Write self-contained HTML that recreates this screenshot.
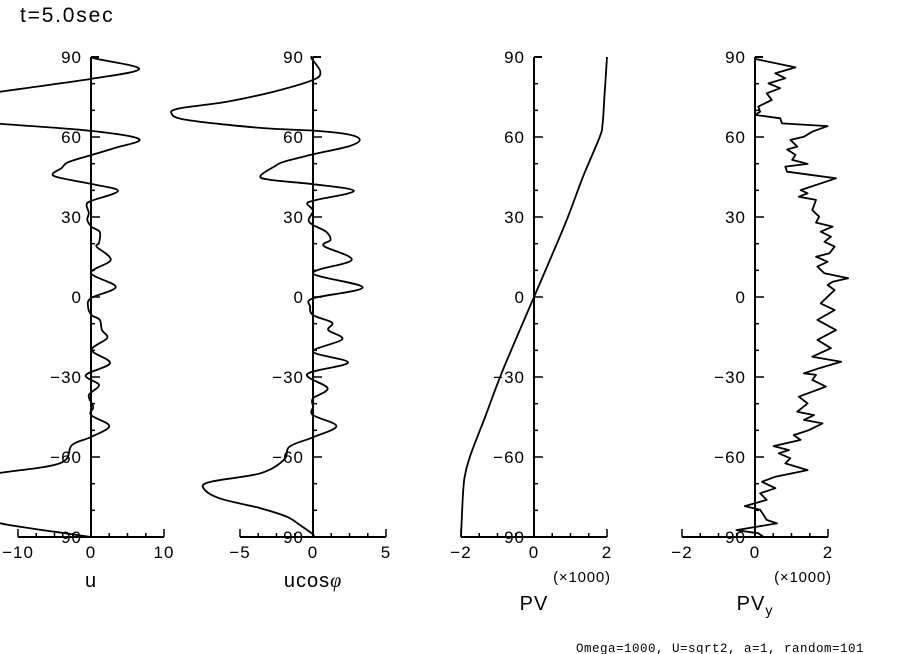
<!DOCTYPE html>
<html><head><meta charset="utf-8">
<style>
html,body{margin:0;padding:0;background:#fff;}
svg{display:block;}
text{font-family:"Liberation Sans",sans-serif;fill:#000;}
</style></head>
<body>
<svg id="chart" width="904" height="654" viewBox="0 0 904 654" xmlns="http://www.w3.org/2000/svg">
<text x="20" y="22" font-size="21" letter-spacing="1.8">t=5.0sec</text>
<text x="576" y="652" font-size="12.5" letter-spacing="0.5" style="font-family:'Liberation Mono',monospace">Omega=1000, U=sqrt2, a=1, random=101</text>
</svg>
<script>
// Panel 1: u
const uLat = [90,89.3,85.5,81.8,77,75,73,70,67,65,62.3,59.2,55.9,53.2,50.6,48.4,45.4,42.4,39.8,36,34.5,31.5,28.9,26.3,24.4,20.3,18.8,13.9,9,3.8,-0.4,-3.8,-6.8,-8.6,-12.4,-15.4,-19.9,-24.8,-29.3,-33,-36.8,-41.2,-44.3,-48.4,-52.5,-55.5,-62.3,-66,-69.3,-71.7,-75.5,-79.2,-82.4,-84.8,-87.4,-88.5,-90];
const uVal = [0,0.8,6.6,0,-12.5,-18,-21,-28,-20,-12.5,0,6.6,3.3,0,-3.1,-4,-5.1,0,3.7,0,-0.6,-0.3,-0.5,0.1,1.2,1.1,0.8,2.7,0,3.4,0,-0.4,0.1,1.2,1.5,2.2,0.1,2.6,-0.7,1.1,-0.3,0.3,0,2.5,0,-2.6,-4.2,-12.5,-19.8,-23.9,-25.6,-19.2,-13.6,-12.5,-6.6,-3.8,0];
// Panel 2: u cos(phi)
const ucLat = [90,89.5,84.5,81.4,77,73.2,70.8,68.9,66.4,63.4,62.4,61.1,59.1,56.6,53.5,50.7,49.1,45.4,43.9,42.3,39.8,36.4,35.1,32.4,28.9,27,24.5,21.4,19.1,13.9,8.9,3.6,-0.5,-3.6,-6.8,-9.6,-12.4,-15.9,-20.5,-24.6,-28.9,-34.2,-38,-41.1,-44.3,-48.4,-52.6,-56.1,-61.1,-66.1,-69.3,-71.7,-75.5,-79.2,-82.4,-85.5,-89,-90];
const ucVal = [0,-0.1,0.5,0,-2.7,-5.9,-9.1,-9.7,-8.65,-3.6,0,2.3,3.2,2.5,0,-2,-2.6,-3.6,-2.9,0,2.8,0.25,-0.4,0,-0.3,0,0.9,1.2,0.75,2.65,0,3.4,0,-0.2,0,1.3,1.05,2,0,2.4,-0.4,1,0,0,0,1.6,0,-1.6,-2,-3.6,-7,-7.5,-6.4,-3.6,-1.8,-0.9,0,0];
// Panel 3: PV (x1000)
const pvLat = [-90,-75,-67.5,-60,-45,-30,-15,0,15,30,45,60,65,75,90];
const pvVal = [-2,-1.95,-1.9,-1.76,-1.34,-0.93,-0.47,0,0.47,0.93,1.34,1.8,1.88,1.93,2];
// Panel 4: PV_y (x1000)
const pyLat = [89.3,86.1,83.9,82,80.1,78.3,76.4,73.9,71.4,69.5,68.3,67,65.1,64.1,62,60.1,58.9,56.4,55.3,53.3,51.4,49.9,48.9,47,44.5,40.1,38.9,37.6,36.4,32.6,30.1,27.9,26.4,24.5,22.6,20.7,18.9,16.4,15.1,13.2,11.4,8.9,7,5.7,4.5,2.6,0.1,-2.4,-4.9,-8.6,-12.4,-16.1,-19.2,-22.4,-24.3,-26.7,-28.6,-29.2,-31.1,-33.6,-35.5,-37.4,-39.9,-43,-44.3,-46.1,-47.4,-49.9,-51.8,-53.6,-55.9,-57.4,-58.6,-60.5,-62.4,-64.9,-67.4,-69.3,-71.7,-73.6,-76.1,-78.4,-79.8,-83.6,-84.9,-87.4,-88.6,-89.9];
const pyVal = [0,1.11,0.56,0.83,0.37,0.69,0.32,0.46,0.09,0.14,0,0.69,0.74,1.99,1.57,1.34,0.97,1.16,0.88,1.11,1.02,1.44,0.83,0.88,2.22,1.25,1.44,1.2,1.67,1.57,1.76,1.67,2.13,1.8,2.08,1.9,2.18,2.04,1.67,1.99,1.71,1.9,2.55,2.13,1.99,2.18,1.99,1.8,2.18,1.71,2.22,1.71,2.08,1.57,2.36,1.76,1.34,1.67,1.57,1.94,1.57,1.2,1.44,1.16,1.62,1.34,1.85,1.48,1.06,1.25,0.51,0.93,0.65,0.97,0.83,1.44,0.56,0.19,0.56,0.14,0.32,-0.28,0.14,0.32,0.6,-0.51,0.09,0.23];
const yTicks = [90,60,30,0,-30,-60,-90];

const NS = "http://www.w3.org/2000/svg";
const svg = document.getElementById('chart');
const Y0 = 297, YS = 80/30;
function yPos(lat){ return Y0 - lat*YS; }
function mk(tag, attrs, parent){
  const e = document.createElementNS(NS, tag);
  for (const k in attrs) e.setAttribute(k, attrs[k]);
  (parent||svg).appendChild(e);
  return e;
}
const defs = mk('defs', {});
const cp = mk('clipPath', {id:'clip'}, defs);
mk('rect', {x:0, y:40, width:904, height:520}, cp);

function smoothPath(pts){
  let d = 'M' + pts[0][0].toFixed(1) + ',' + pts[0][1].toFixed(1);
  for (let i=0;i<pts.length-1;i++){
    const p0 = pts[Math.max(0,i-1)], p1 = pts[i], p2 = pts[i+1], p3 = pts[Math.min(pts.length-1,i+2)];
    const c1x = p1[0] + (p2[0]-p0[0])/6, c1y = p1[1] + (p2[1]-p0[1])/6;
    const c2x = p2[0] - (p3[0]-p1[0])/6, c2y = p2[1] - (p3[1]-p1[1])/6;
    d += ' C' + c1x.toFixed(1)+','+c1y.toFixed(1)+' '+c2x.toFixed(1)+','+c2y.toFixed(1)+' '+p2[0].toFixed(1)+','+p2[1].toFixed(1);
  }
  return d;
}

function panel(name, x0, half, lats, vals, xLabels, title, scaleNote, smooth){
  const g = mk('g', {});
  
  
  const pxPer = 73/half;
  const xPos = v => x0 + v*pxPer;
  const sty = {stroke:'#000', 'stroke-width':2, fill:'none'};
  const ax = mk('line', Object.assign({x1:x0, y1:yPos(90), x2:x0, y2:yPos(-90)}, sty), g);
  
  
  mk('line', Object.assign({x1:x0, y1:yPos(90), x2:x0+8, y2:yPos(90)}, sty), g);
  for (let l=-80; l<90; l+=10){
    const len = (l%30===0) ? 9 : 4;
    mk('line', {x1:x0, y1:yPos(l), x2:x0+len, y2:yPos(l), stroke:'#000', 'stroke-width':1.5}, g);
  }
  const bx = mk('line', Object.assign({x1:xPos(-half), y1:yPos(-90), x2:xPos(half), y2:yPos(-90)}, sty), g);
  
  
  for (let i=-4;i<=4;i++){
    const len = (Math.abs(i)===4) ? 8 : 4;
    const xx = x0 + i*73/4;
    mk('line', {x1:xx, y1:yPos(-90), x2:xx, y2:yPos(-90)-len, stroke:'#000', 'stroke-width':1.5}, g);
  }
  yTicks.forEach(t => {
    const tx = mk('text', {x:x0-9, y:yPos(t)+6, 'font-size':17, 'letter-spacing':1, 'text-anchor':'end'}, g);
    
    
    tx.textContent = t<0 ? '\u2212'+(-t) : String(t);
  });
  xLabels.forEach(v => {
    const tx = mk('text', {x:xPos(v), y:558, 'font-size':17, 'letter-spacing':1, 'text-anchor':'middle'}, g);
    
    
    tx.textContent = v<0 ? '\u2212'+(-v) : String(v);
  });
  if (scaleNote){
    const sn = mk('text', {x:x0+48, y:582, 'font-size':15, 'letter-spacing':0.8, 'text-anchor':'middle'}, g);
    
    
    sn.textContent = '(\u00d71000)';
  }
  const tt = mk('text', {x:x0, y: scaleNote ? 610 : 587, 'font-size':20, 'letter-spacing':1, 'text-anchor':'middle'}, g);
  
  
  tt.innerHTML = title;
  const pts = lats.map((l,i)=>[xPos(vals[i]), yPos(l)]);
  const d = smooth ? smoothPath(pts) : pts.map((p,i)=>(i?'L':'M')+p[0].toFixed(1)+','+p[1].toFixed(1)).join(' ');
  const p = mk('path', {d:d, stroke:'#000', 'stroke-width':1.8, fill:'none', 'stroke-linejoin':'round', 'clip-path':'url(#clip)'}, g);
  
  
}
panel('u', 91, 10, uLat, uVal, [-10,0,10], 'u', false, true);
panel('ucos', 313, 5, ucLat, ucVal, [-5,0,5], 'ucos<tspan font-style="italic" font-family="Liberation Serif">\u03c6</tspan>', false, true);
panel('pv', 534, 2, pvLat, pvVal, [-2,0,2], 'PV', true, true);
panel('pvy', 755, 2, pyLat, pyVal, [-2,0,2], 'PV<tspan font-size="14" dy="5">y</tspan>', true, false);
</script>
</body></html>
